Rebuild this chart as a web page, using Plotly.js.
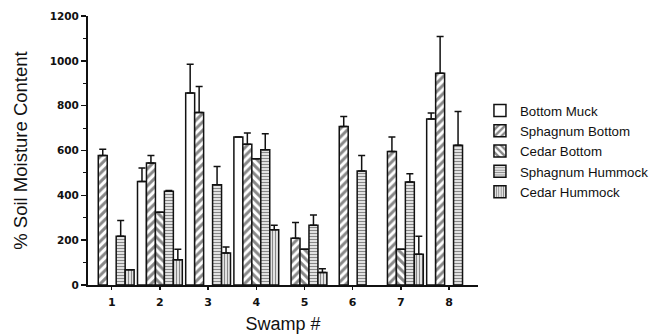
<!DOCTYPE html>
<html>
<head>
<meta charset="utf-8">
<script src="https://cdn.plot.ly/plotly-3.0.1.min.js"></script>
<style>html,body{margin:0;padding:0;background:#fff;}#chart{width:649px;height:335px;}</style>
</head>
<body>
<div id="chart"></div>
<script>
const swamps = [1, 2, 3, 4, 5, 6, 7, 8];
const swampLabels = ['1', '2', '3', '4', '5', '6', '7', '8'];

const bottomMuck       = [null, 462, 857, 660, null, null, null, 740];
const bottomMuckErr    = [null, 60, 128, 0, null, null, null, 27];
const sphagBottom      = [578, 544, 770, 628, 208, 707, 596, 945];
const sphagBottomErr   = [28, 34, 116, 50, 71, 45, 64, 163];
const cedarBottom      = [null, 324, null, 563, 160, null, 160, null];
const cedarBottomErr   = [null, 0, null, 0, 0, null, 0, null];
const sphagHummock     = [217, 418, 447, 603, 267, 508, 459, 623];
const sphagHummockErr  = [71, 4, 82, 72, 45, 70, 37, 151];
const cedarHummock     = [68, 113, 143, 247, 56, null, 137, null];
const cedarHummockErr  = [0, 47, 26, 20, 17, null, 80, null];

const seriesNames = ['Bottom Muck', 'Sphagnum Bottom', 'Cedar Bottom', 'Sphagnum Hummock', 'Cedar Hummock'];
const seriesVals = [bottomMuck, sphagBottom, cedarBottom, sphagHummock, cedarHummock];
const seriesErr = [bottomMuckErr, sphagBottomErr, cedarBottomErr, sphagHummockErr, cedarHummockErr];
const patterns = [
  {shape: '', size: 6, solidity: 0.4},
  {shape: '/', size: 6, solidity: 0.5},
  {shape: '\\', size: 6, solidity: 0.5},
  {shape: '-', size: 3, solidity: 0.5},
  {shape: '|', size: 3, solidity: 0.5}
];

const traces = seriesNames.map((name, i) => ({
  type: 'bar',
  name: name,
  x: swamps,
  y: seriesVals[i],
  marker: {
    color: '#ffffff',
    line: {color: '#111111', width: 1.5},
    pattern: {shape: patterns[i].shape, fgcolor: '#111111', bgcolor: '#ffffff',
              size: patterns[i].size, solidity: patterns[i].solidity, fillmode: 'overlay'}
  },
  error_y: {
    type: 'data', symmetric: false,
    array: seriesErr[i],
    arrayminus: seriesErr[i].map(v => 0),
    color: '#111111', thickness: 1.5, width: 3.5
  }
}));

const layout = {
  width: 649, height: 335,
  margin: {l: 88, r: 171, t: 16, b: 50, autoexpand: false},
  paper_bgcolor: '#ffffff', plot_bgcolor: '#ffffff',
  barmode: 'group', bargap: 0.07, bargroupgap: 0,
  font: {family: 'Liberation Sans, Arial, sans-serif', color: '#111111'},
  showlegend: true,
  legend: {
    x: 1.005, xanchor: 'left', y: 0.705, yanchor: 'top',
    font: {family: 'Liberation Sans', size: 13.3, color: '#111111'},
    bgcolor: 'rgba(0,0,0,0)', itemwidth: 30
  },
  xaxis: {
    range: [0.508, 8.6],
    tickvals: swamps, ticktext: swampLabels,
    ticks: 'outside', ticklen: 3, tickwidth: 1.5, tickcolor: '#111111',
    ticklabelstandoff: 3,
    showline: true, linecolor: '#111111', linewidth: 2,
    showgrid: false, zeroline: false,
    tickfont: {family: 'DejaVu Sans', size: 11, weight: 'bold', color: '#111111'},
    title: {text: 'Swamp #', font: {family: 'Liberation Sans', size: 18, color: '#111111'}, standoff: 9}
  },
  yaxis: {
    range: [0, 1200],
    tickvals: [0, 200, 400, 600, 800, 1000, 1200],
    ticks: 'outside', ticklen: 5, tickwidth: 1.5, tickcolor: '#111111',
    minor: {dtick: 100, ticks: 'outside', ticklen: 3, tickwidth: 1, tickcolor: '#111111', showgrid: false},
    showline: true, linecolor: '#111111', linewidth: 2,
    showgrid: false, zeroline: false,
    tickfont: {family: 'DejaVu Sans', size: 10.5, weight: 'bold', color: '#111111'},
    title: {text: '% Soil Moisture Content', font: {family: 'Liberation Sans', size: 18.5, color: '#111111'}, standoff: 17}
  }
};

Plotly.newPlot('chart', traces, layout, {displayModeBar: false, staticPlot: true});
</script>
</body>
</html>
